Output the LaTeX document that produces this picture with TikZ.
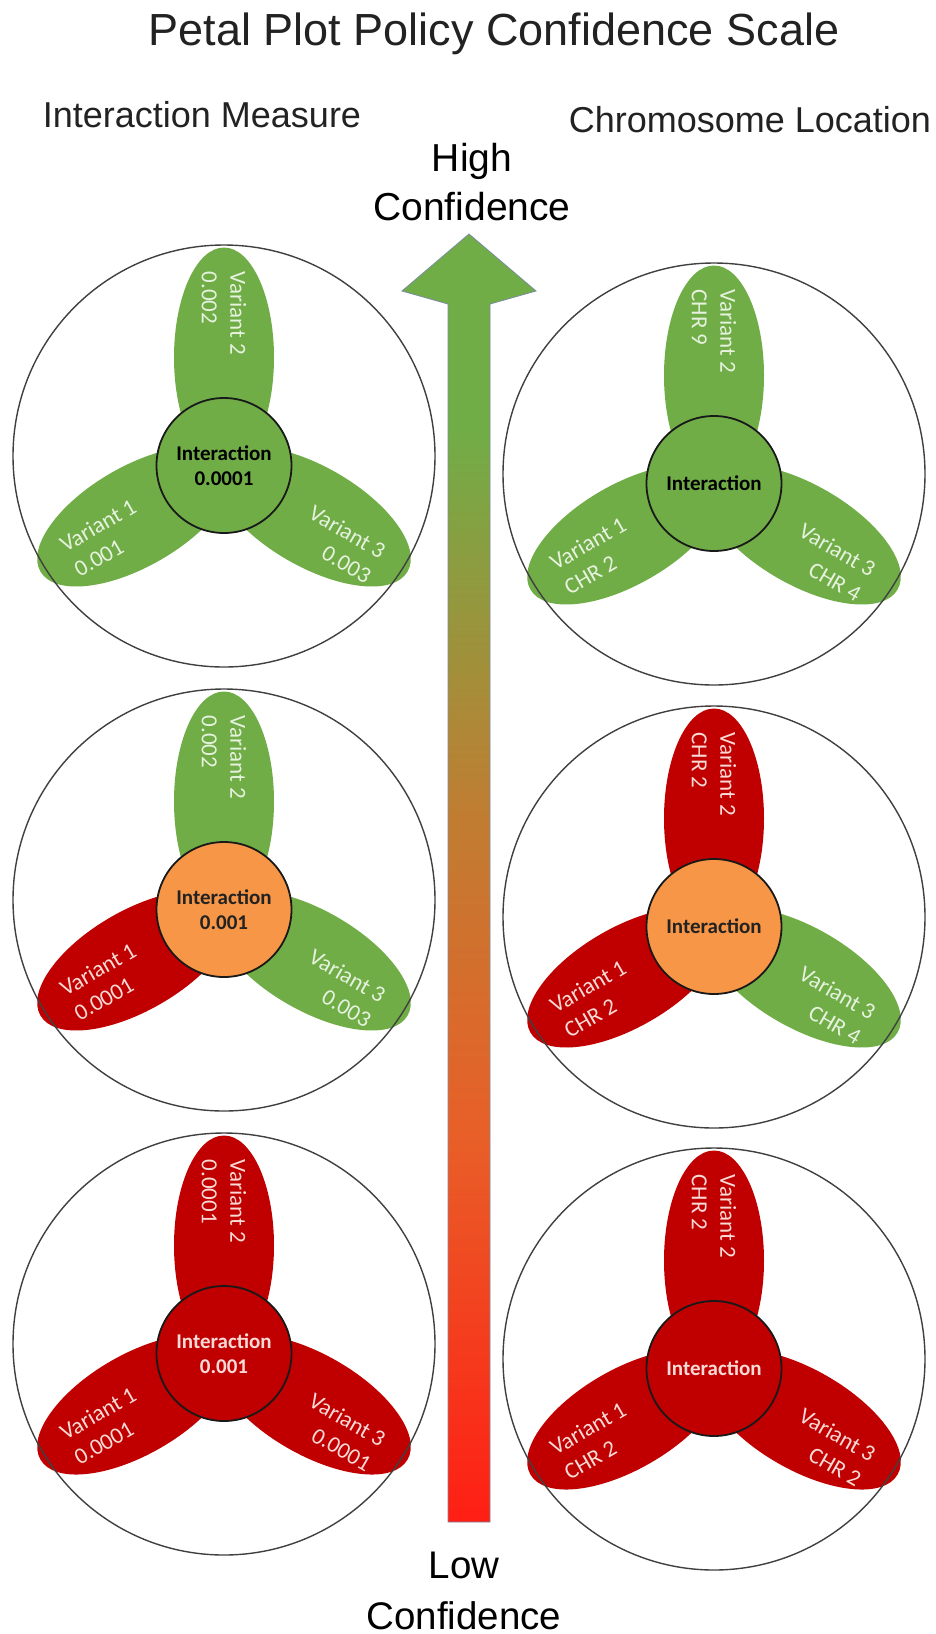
\documentclass[tikz,border=0pt]{standalone}
\usepackage{fontspec}
\setmainfont{Liberation Sans}
\newfontfamily\petalfont{Carlito}
\usetikzlibrary{calc,shapes.geometric}

\definecolor{pgreen}{HTML}{70AD47}
\definecolor{pred}{HTML}{C00000}
\definecolor{porange}{HTML}{F79646}
\definecolor{gtxt}{HTML}{E6F2DE}
\definecolor{rtxt}{HTML}{F9DAD6}
\definecolor{ink}{HTML}{222222}
\definecolor{agreen}{HTML}{70AD47}
\definecolor{abrown}{HTML}{C07D32}
\definecolor{aorange}{HTML}{E85F28}
\definecolor{ared}{HTML}{FF1E14}
\definecolor{aedge}{HTML}{7A8CA0}

% green-to-red scale of the central arrow (box of the path = 25bp..75bp)
\pgfdeclareverticalshading{confidence}{100bp}{color(0bp)=(ared); color(25bp)=(ared); color(40bp)=(aorange); color(52.5bp)=(abrown); color(67.5bp)=(agreen); color(100bp)=(agreen)}

\tikzset{
  petal/.style={ellipse, inner sep=0pt, minimum width=220pt, minimum height=100pt},
  gpetal/.style={fill=pgreen},
  rpetal/.style={fill=pred},
  gtext/.style={text=gtxt},
  rtext/.style={text=rtxt},
  ptext/.style={inner sep=0pt, font=\petalfont\fontsize{23}{28.5}\selectfont},
  core/.style={circle, draw=black!90, line width=1.8pt, minimum size=135pt, inner sep=0pt,
    align=center, font=\petalfont\bfseries\fontsize{21}{25}\selectfont},
  ring/.style={circle, draw=black!75, line width=1.4pt, minimum size=422pt, inner sep=0pt},
  heading/.style={anchor=base, text=ink, inner sep=0pt},
}

% three petals around the point #1-o; #2..#4 = g/r colour of petals 1..3
\newcommand\petalset[7]{%
  \node[petal, #2petal, rotate=210] (#1-p1) at ($(#1-o)+(210:102)$) {};
  \node[petal, #4petal, rotate=330] (#1-p3) at ($(#1-o)+(330:102)$) {};
  \node[petal, #3petal, rotate=90] (#1-p2) at ($(#1-o)+(90:108)$) {};
  \node[ptext, #2text, rotate=30, anchor=west, align=left] (#1-t1)
    at ($(#1-o)+(210:181)+(-60:3)$) {#5};
  \node[ptext, #3text, rotate=-90, anchor=west, align=left] (#1-t2)
    at ($(#1-o)+(90:194)$) {#6};
  \node[ptext, #4text, rotate=-30, anchor=east, align=right] (#1-t3)
    at ($(#1-o)+(330:182)+(-120:10)$) {#7};
}

\begin{document}
\begin{tikzpicture}[x=1pt,y=1pt]
\useasboundingbox (0,0) rectangle (936,-1634);
\fill[white] (0,0) rectangle (936,-1634);

% titles
\node[heading, font=\fontsize{45}{54}\selectfont] (title) at (494,-45) {Petal Plot Policy Confidence Scale};
\node[heading, font=\fontsize{36}{43}\selectfont] (lefthead) at (202,-127) {Interaction Measure};
\node[heading, font=\fontsize{36}{43}\selectfont] (righthead) at (750,-132) {Chromosome Location};
\node[heading, text=black, font=\fontsize{39}{47}\selectfont] (high) at (472,-171) {High};
\node[heading, text=black, font=\fontsize{39}{47}\selectfont] (highconf) at (472,-220) {Confidence};
\node[heading, text=black, font=\fontsize{38.5}{47}\selectfont] (low) at (464,-1578) {Low};
\node[heading, text=black, font=\fontsize{38.5}{47}\selectfont] (lowconf) at (464,-1629) {Confidence};

% confidence arrow
\shadedraw[shading=confidence, draw=aedge, line width=0.8pt, line join=miter]
  (469,-234) -- (536,-291) -- (490,-304) -- (490,-1522) -- (448,-1522)
  -- (448,-304) -- (402,-291) -- cycle;

% ---- left column: interaction measure ----
\coordinate (tl-c) at (224,-456);
\coordinate (tl-o) at (224,-465.5);
\petalset{tl}{g}{g}{g}{Variant 1\\0.001}{Variant 2\\0.002}{Variant 3\\0.003}
\node[core, fill=pgreen, text=black] (tl-i) at (tl-o) {Interaction\\0.0001};
\node[ring] (tl-ring) at (tl-c) {};

\coordinate (ml-c) at (224,-900);
\coordinate (ml-o) at (224,-909.5);
\petalset{ml}{r}{g}{g}{Variant 1\\0.0001}{Variant 2\\0.002}{Variant 3\\0.003}
\node[core, fill=porange, text=ink] (ml-i) at (ml-o) {Interaction\\0.001};
\node[ring] (ml-ring) at (ml-c) {};

\coordinate (bl-c) at (224,-1344);
\coordinate (bl-o) at (224,-1353.5);
\petalset{bl}{r}{r}{r}{Variant 1\\0.0001}{Variant 2\\0.0001}{Variant 3\\0.0001}
\node[core, fill=pred, text=rtxt] (bl-i) at (bl-o) {Interaction\\0.001};
\node[ring] (bl-ring) at (bl-c) {};

% ---- right column: chromosome location ----
\coordinate (tr-c) at (714,-474);
\coordinate (tr-o) at (714,-483.5);
\petalset{tr}{g}{g}{g}{Variant 1\\CHR 2}{Variant 2\\CHR 9}{Variant 3\\CHR 4}
\node[core, fill=pgreen, text=black] (tr-i) at (tr-o) {Interaction};
\node[ring] (tr-ring) at (tr-c) {};

\coordinate (mr-c) at (714,-917);
\coordinate (mr-o) at (714,-926.5);
\petalset{mr}{r}{r}{g}{Variant 1\\CHR 2}{Variant 2\\CHR 2}{Variant 3\\CHR 4}
\node[core, fill=porange, text=ink] (mr-i) at (mr-o) {Interaction};
\node[ring] (mr-ring) at (mr-c) {};

\coordinate (br-c) at (714,-1359);
\coordinate (br-o) at (714,-1368.5);
\petalset{br}{r}{r}{r}{Variant 1\\CHR 2}{Variant 2\\CHR 2}{Variant 3\\CHR 2}
\node[core, fill=pred, text=rtxt] (br-i) at (br-o) {Interaction};
\node[ring] (br-ring) at (br-c) {};
\end{tikzpicture}
\end{document}
